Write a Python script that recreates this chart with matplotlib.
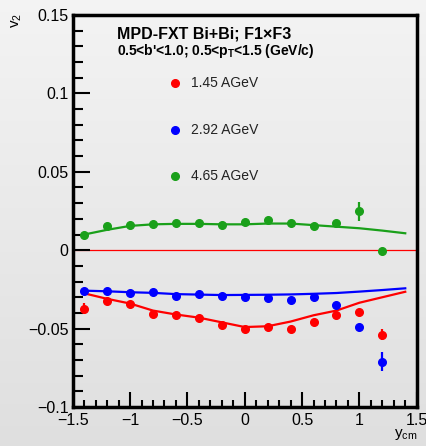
import numpy as np
import matplotlib
matplotlib.use('Agg')
import matplotlib.pyplot as plt
from matplotlib.ticker import MultipleLocator, FixedLocator

plt.rcParams['font.family'] = ['Liberation Sans', 'DejaVu Sans']
plt.rcParams['mathtext.fontset'] = 'custom'
plt.rcParams['mathtext.rm'] = 'Liberation Sans'
plt.rcParams['mathtext.it'] = 'Liberation Sans'
plt.rcParams['mathtext.bf'] = 'Liberation Sans:bold'

# rapidity bins of the measured points
y_pts = [-1.4, -1.2, -1.0, -0.8, -0.6, -0.4, -0.2, 0.0, 0.2, 0.4, 0.6, 0.8, 1.0, 1.2]

# v2 points for each energy
v2_145 = [-0.0373, -0.0326, -0.0341, -0.0407, -0.0415, -0.0434, -0.0477,
          -0.0500, -0.0487, -0.0500, -0.0455, -0.0411, -0.0394, -0.0540]
err_145 = [0.0034, 0.0008, 0.0008, 0.0008, 0.0008, 0.0008, 0.0008,
           0.0008, 0.0008, 0.0008, 0.0008, 0.0010, 0.0012, 0.0035]
v2_292 = [-0.0258, -0.0262, -0.0271, -0.0264, -0.0292, -0.0279, -0.0290,
          -0.0296, -0.0305, -0.0317, -0.0296, -0.0351, -0.0487, -0.0710]
err_292 = [0.0008, 0.0008, 0.0008, 0.0008, 0.0008, 0.0008, 0.0008,
           0.0008, 0.0008, 0.0008, 0.0008, 0.0010, 0.0012, 0.0060]
v2_465 = [0.0099, 0.0156, 0.0158, 0.0165, 0.0175, 0.0173, 0.0158,
          0.0177, 0.0190, 0.0175, 0.0154, 0.0171, 0.0247, -0.0003]
err_465 = [0.0008, 0.0008, 0.0008, 0.0008, 0.0008, 0.0008, 0.0008,
           0.0008, 0.0008, 0.0008, 0.0008, 0.0010, 0.0060, 0.0010]

# reference (model) curves
y_line = [-1.4, -1.2, -1.0, -0.8, -0.6, -0.4, -0.2, 0.0, 0.2, 0.4, 0.6, 0.8, 1.0, 1.2, 1.4]
line_145 = [-0.0275, -0.0310, -0.0340, -0.0385, -0.0410, -0.0430, -0.0460, -0.0490,
            -0.0485, -0.0455, -0.0415, -0.0385, -0.0335, -0.0300, -0.0265]
line_292 = [-0.0258, -0.0262, -0.0268, -0.0272, -0.0280, -0.0283, -0.0286, -0.0285,
            -0.0284, -0.0282, -0.0278, -0.0273, -0.0264, -0.0254, -0.0243]
line_465 = [0.0100, 0.0130, 0.0155, 0.0165, 0.0168, 0.0168, 0.0165, 0.0165,
            0.0170, 0.0170, 0.0160, 0.0150, 0.0140, 0.0125, 0.0108]

labels = ['1.45 AGeV', '2.92 AGeV', '4.65 AGeV']
colors = ['#ff0000', '#0000ff', '#1aa01a']

fig = plt.figure(figsize=(4.26, 4.46), dpi=100)

# light grey gradient behind everything
bg = fig.add_axes([0, 0, 1, 1], zorder=-10)
grad = np.linspace(0.955, 0.875, 256).reshape(-1, 1)
bg.imshow(np.dstack([grad, grad, grad]), aspect='auto', extent=[0, 1, 0, 1])
bg.axis('off')

ax = fig.add_axes([0.1707, 0.0874, 0.8075, 0.879])
ax.patch.set_alpha(0)

ax.axhline(0, color='#ff0000', lw=0.9, zorder=1)

series = [(v2_145, err_145, line_145), (v2_292, err_292, line_292), (v2_465, err_465, line_465)]
for (v, e, ln), c in zip(series, colors):
    ax.plot(y_line, ln, color=c, lw=1.6, zorder=2)
    ax.errorbar(y_pts, v, yerr=e, fmt='o', color=c, ms=5.5, elinewidth=1.6,
                capsize=0, zorder=3)

ax.set_xlim(-1.5, 1.5)
ax.set_ylim(-0.1, 0.15)

ax.xaxis.set_major_locator(FixedLocator([-1.5, -1, -0.5, 0, 0.5, 1, 1.5]))
ax.xaxis.set_minor_locator(MultipleLocator(0.1))
ax.yaxis.set_major_locator(FixedLocator([-0.1, -0.05, 0, 0.05, 0.1, 0.15]))
ax.yaxis.set_minor_locator(MultipleLocator(0.01))
ax.set_xticklabels(['\u22121.5', '\u22121', '\u22120.5', '0', '0.5', '1', '1.5'])
ax.set_yticklabels(['\u22120.1', '\u22120.05', '0', '0.05', '0.1', '0.15'])
ax.tick_params(which='both', direction='in', top=False, right=False,
               width=1.5, labelsize=11.5, colors='black')
ax.tick_params(axis='y', which='major', length=12, pad=3)
ax.tick_params(axis='y', which='minor', length=7)
ax.tick_params(axis='x', which='major', length=11, pad=4)
ax.tick_params(axis='x', which='minor', length=5)
for sp in ax.spines.values():
    sp.set_linewidth(2.5)

# axis titles placed like ROOT does
fig.text(0.04, 0.955, 'v$_2$', rotation=90, fontsize=11, ha='center', va='center')
fig.text(0.952, 0.026, 'y$_{\\rm cm}$', fontsize=11, ha='center', va='center')

ax.text(0.13, 0.94, 'MPD-FXT Bi+Bi; F1\u00d7F3', transform=ax.transAxes,
        fontsize=11.5, fontweight='bold', va='baseline')
ax.text(0.13, 0.897, "0.5<b'<1.0; 0.5<p$_{\\mathbf{T}}$<1.5 (GeV/c)", transform=ax.transAxes,
        fontsize=10, fontweight='bold', va='baseline')

# legend entries
leg_y = [0.8265, 0.7066, 0.5893]
for lab, c, yy in zip(labels, colors, leg_y):
    ax.plot([0.297], [yy], 'o', color=c, ms=5.5, transform=ax.transAxes)
    ax.text(0.344, yy, lab, transform=ax.transAxes, fontsize=10, va='center',
            color='#222222')

fig.savefig('out.png', dpi=100)
